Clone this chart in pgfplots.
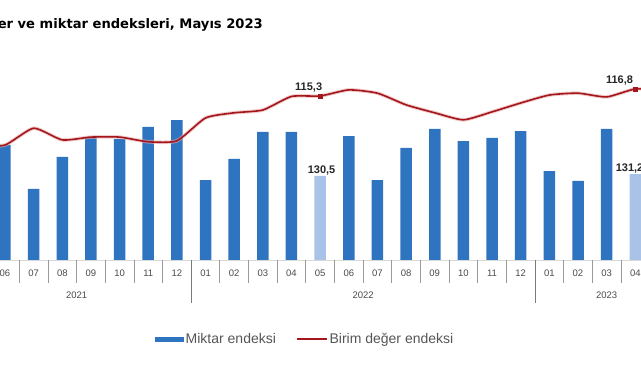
\documentclass[border=0pt]{standalone}
\usepackage{fontspec}
\setmainfont{Liberation Sans}
\newfontfamily\titlefont{DejaVu Sans}
\usepackage{pgfplots}
\usepackage{pgfplotstable}
\pgfplotsset{compat=1.18}
\definecolor{barblue}{HTML}{2F74C0}
\definecolor{barlight}{HTML}{A9C3E8}
\definecolor{linered}{HTML}{A3161C}
\definecolor{glow}{HTML}{E9A9A9}
\definecolor{tickgray}{HTML}{4A4A4A}
\definecolor{legendgray}{HTML}{555555}
\definecolor{sepgray}{HTML}{9A9A9A}
\definecolor{labelgray}{HTML}{262626}

\pgfplotstableread{
x v
-1 104.6
0 104.8
1 108.4
2 105.9
3 106.5
4 106.5
5 105.5
6 105.7
7 110.6
8 111.7
9 112.3
10 115.2
11 115.3
12 116.6
13 115.9
14 113.4
15 111.7
16 110.2
17 111.9
18 113.8
19 115.5
20 115.9
21 115.1
22 116.8
23 116.5
}\birim

\pgfplotstableread{
x v
0 141.8
1 125.8
2 137.4
3 144.7
4 143.9
5 148.3
6 150.8
7 129.0
8 136.7
9 146.5
10 146.5
12 145.0
13 129.0
14 140.7
15 147.6
16 143.2
17 144.3
18 146.8
19 132.3
20 128.7
21 147.6
}\miktar

\pgfplotstableread{
x v
11 130.5
22 131.2
}\miktarhl

\begin{document}
\begin{tikzpicture}
\useasboundingbox (0,0) rectangle (641pt,380pt);
\clip (0,0) rectangle (641pt,380pt);
\node[anchor=east, font=\titlefont\bfseries\fontsize{13.1}{16}\selectfont, inner sep=0pt] at (263pt,355pt) {Dış ticaret birim değer ve miktar endeksleri, Mayıs 2023};
\begin{axis}[
  at={(-9.325pt,120pt)}, anchor=south west,
  scale only axis, width=658.95pt, height=200pt,
  xmin=-0.5, xmax=22.5, ymin=100, ymax=172.62,
  axis x line*=bottom, axis y line=none,
  x axis line style={draw=gray!30, -},
  ytick=\empty,
  xtick={0,...,22},
  xticklabels={06,07,08,09,10,11,12,01,02,03,04,05,06,07,08,09,10,11,12,01,02,03,04},
  major tick length=0pt,
  xticklabel style={font=\fontsize{9.5}{11}\selectfont, text=tickgray, yshift=-6pt},
  /pgf/number format/assume math mode=true,
  ybar, bar shift=0pt, bar width=11.5pt,
  clip=false,
]
\addplot[fill=barblue, draw=none] table[x=x,y=v] {\miktar};
\addplot[fill=barlight, draw=none] table[x=x,y=v] {\miktarhl};
\node[anchor=south, font=\bfseries\fontsize{11}{13}\selectfont, text=labelgray, inner sep=1pt] at (axis cs:11.05,130.5) {130,5};
\node[anchor=south, font=\bfseries\fontsize{11}{13}\selectfont, text=labelgray, inner sep=1pt] at (axis cs:21.8,131.2) {131,2};
\pgfplotsinvokeforeach{-0.5,0.5,1.5,2.5,3.5,4.5,5.5,7.5,8.5,9.5,10.5,11.5,12.5,13.5,14.5,15.5,16.5,17.5,19.5,20.5,21.5,22.5}{
  \draw[sepgray, line width=0.8pt] (axis cs:#1,100) -- ([yshift=-23pt]axis cs:#1,100);
}
\draw[sepgray!80!black, line width=0.8pt] (axis cs:6.5,100) -- ([yshift=-43pt]axis cs:6.5,100);
\draw[sepgray!80!black, line width=0.8pt] (axis cs:18.5,100) -- ([yshift=-43pt]axis cs:18.5,100);
\node[font=\fontsize{9.5}{11}\selectfont, text=tickgray] at ([yshift=-35pt]axis cs:2.5,100) {2021};
\node[font=\fontsize{9.5}{11}\selectfont, text=tickgray] at ([yshift=-35pt]axis cs:12.5,100) {2022};
\node[font=\fontsize{9.5}{11}\selectfont, text=tickgray] at ([yshift=-35pt]axis cs:21,100) {2023};
\end{axis}
\begin{axis}[
  at={(-9.325pt,120pt)}, anchor=south west,
  scale only axis, width=658.95pt, height=200pt,
  xmin=-0.5, xmax=22.5, ymin=80.2, ymax=123.0,
  hide axis, clip=false,
  legend style={at={(0.245,-0.395)}, anchor=west, draw=none, fill=none,
    font=\fontsize{14}{16}\selectfont, text=legendgray, legend columns=2,
    /tikz/every even column/.append style={column sep=18pt}},
]
\addlegendimage{legend image code/.code={\fill[barblue] (0pt,-2pt) rectangle (28pt,2pt);}}
\addlegendentry{Miktar endeksi}
\addplot[glow, line width=3.6pt, opacity=0.6, smooth, tension=0.35, forget plot] table[x=x,y=v] {\birim};
\addplot[linered, line width=1.6pt, smooth, tension=0.35,
  legend image code/.code={\draw[linered, line width=1.6pt] (0pt,0pt) -- (30pt,0pt);}] table[x=x,y=v] {\birim};
\addlegendentry{Birim değer endeksi}
\addplot[only marks, mark=square*, mark size=2pt, color=linered, forget plot] coordinates {(11,115.3)(22,116.8)};
\node[anchor=south, font=\bfseries\fontsize{11}{13}\selectfont, text=labelgray, inner sep=1pt] at ([yshift=3pt]axis cs:10.6,115.3) {115,3};
\node[anchor=south, font=\bfseries\fontsize{11}{13}\selectfont, text=labelgray, inner sep=1pt] at ([yshift=3pt]axis cs:21.45,116.8) {116,8};
\end{axis}
\end{tikzpicture}
\end{document}
